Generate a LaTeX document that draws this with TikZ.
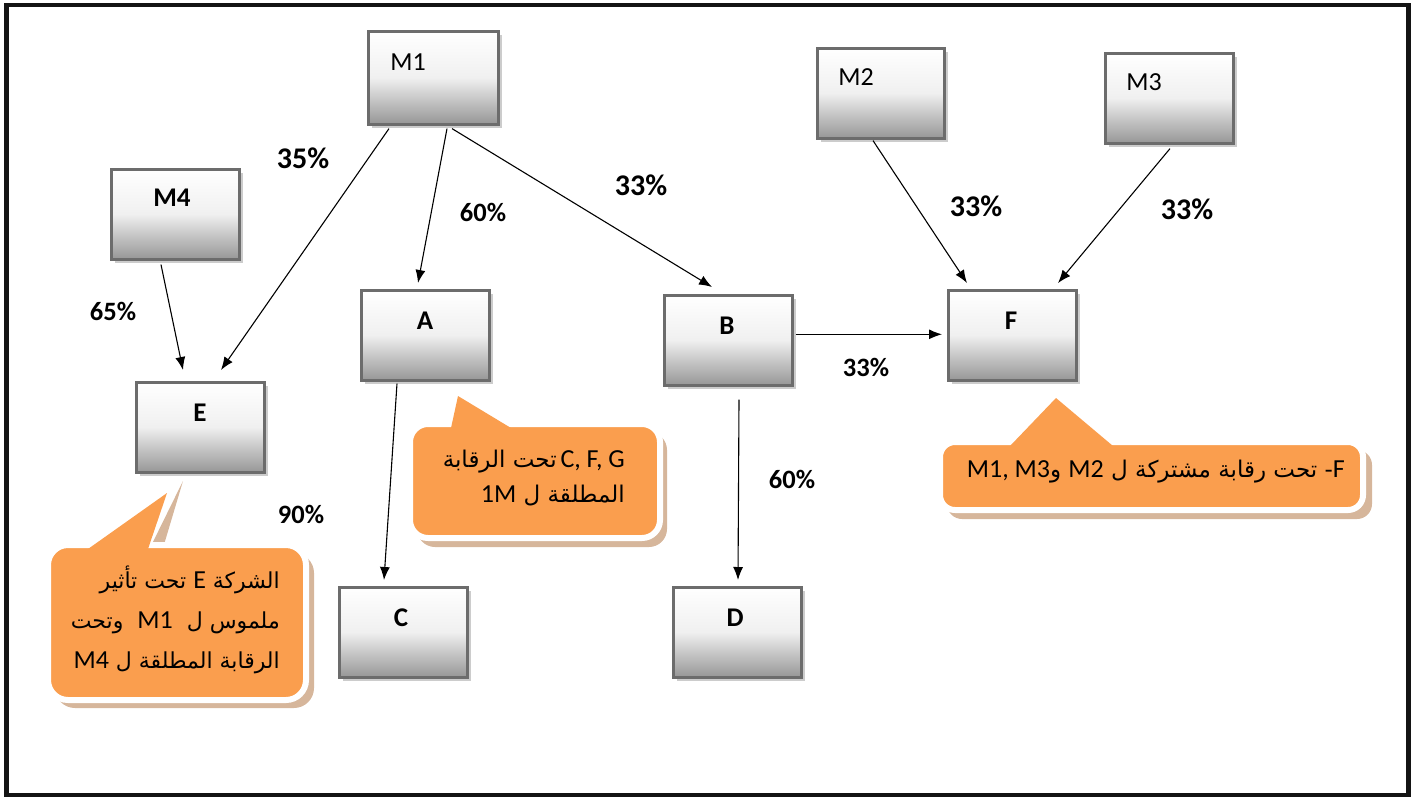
\documentclass[tikz,border=0pt]{standalone}
\usepackage{fontspec}
\setmainfont{Carlito}
\newfontfamily\arabicfont[Script=Arabic]{DejaVu Sans}
\TeXXeTstate=1
\usetikzlibrary{arrows.meta,calc,shadows}

\definecolor{boxline}{RGB}{108,108,108}
\definecolor{boxlow}{RGB}{150,150,150}
\definecolor{callout}{RGB}{250,158,78}
\definecolor{calloutshade}{RGB}{214,182,155}

% a Latin run inside right-to-left text
\newcommand{\latinrun}[1]{\beginL{\rmfamily\fontsize{26}{30}\selectfont #1}\endL}

\begin{document}
\begin{tikzpicture}[x=1pt,y=-1pt,
  company/.style={draw=boxline, line width=2.6pt, minimum width=128pt,
    minimum height=90pt, inner sep=0pt, anchor=north west,
    top color=white, bottom color=boxlow, middle color=black!6,
    drop shadow={shadow xshift=4pt, shadow yshift=-4pt, fill=black!20, opacity=1}},
  plainlbl/.style={inner sep=0pt, font=\fontsize{26}{30}\selectfont},
  boldlbl/.style={inner sep=0pt, font=\bfseries\fontsize{27}{30}\selectfont},
  pbig/.style={inner sep=0pt, font=\bfseries\fontsize{30}{34}\selectfont},
  psmall/.style={inner sep=0pt, font=\bfseries\fontsize{26.5}{30}\selectfont},
  link/.style={line width=1.1pt, -{Latex[length=13pt,width=10pt]}},
  notetext/.style={inner sep=0pt, align=right, anchor=east},
  notebody/.style={draw=white, line width=6pt, fill=callout},
]
\useasboundingbox (0,0) rectangle (1418,798);

% outer frame
\draw[line width=4.5pt, black!92] (6.5,5) rectangle (1408.5,795);

% company boxes
\node[company, minimum width=130pt, minimum height=93pt] (M1) at (367,30) {};
\node[company, minimum width=127pt] (M2) at (816,47) {};
\node[company] (M3) at (1104,52) {};
\node[company] (M4) at (110,168) {};
\node[company] (A) at (360,289) {};
\node[company] (B) at (663,294) {};
\node[company] (F) at (947,289) {};
\node[company] (E) at (135,381) {};
\node[company] (C) at (338,586) {};
\node[company] (D) at (672,586) {};

% box labels
\node[plainlbl] (tM1) at (408,62) {M1};
\node[plainlbl] (tM2) at (856,77) {M2};
\node[plainlbl] (tM3) at (1144,82) {M3};
\node[boldlbl] (tM4) at (172,198) {M4};
\node[boldlbl] (tA) at (425,321) {A};
\node[boldlbl] (tB) at (727,326) {B};
\node[boldlbl] (tF) at (1011,321) {F};
\node[boldlbl] (tE) at (200,413) {E};
\node[boldlbl] (tC) at (401,618) {C};
\node[boldlbl] (tD) at (735,618) {D};

% ownership links
\draw[link] ($(M1.south west)+(22,3)$) -- ($(E.north west)+(86,-11)$);
\draw[link] ($(M1.south west)+(80,3)$) -- ($(A.north west)+(58,-6)$);
\draw[link] ($(M1.south west)+(85,3)$) -- ($(B.north west)+(49,-7)$);
\draw[link] ($(M4.south west)+(51,4)$) -- ($(E.north west)+(48,-11)$);
\draw[link] ($(A.south west)+(37,2)$) -- ($(C.north west)+(46,-6)$);
\draw[link] ($(B.south west)+(76,13)$) -- ($(D.north west)+(66,-6)$);
\draw[link] ($(B.east)+(2,-6)$) -- ($(F.west)+(-5,-1)$);
\draw[link] ($(M2.south west)+(57,1)$) -- ($(F.north west)+(20,-6)$);
\draw[link] ($(M3.south west)+(66,4)$) -- ($(F.north west)+(111,-6)$);

% percentages
\node[pbig] (p1) at (303,158) {35\%};
\node[pbig] (p2) at (641,185) {33\%};
\node[psmall] (p3) at (483,212) {60\%};
\node[psmall] (p4) at (113,311) {65\%};
\node[pbig] (p5) at (976,206) {33\%};
\node[pbig] (p6) at (1187,209) {33\%};
\node[psmall] (p7) at (866,367) {33\%};
\node[psmall] (p8) at (792,479) {60\%};
\node[psmall] (p9) at (301,514) {90\%};

% callout under A
\fill[calloutshade, rounded corners=18pt] (417,432) rectangle (667,547);
\draw[notebody, rounded corners=18pt] (410,424) rectangle (660,538);
\fill[callout] (451,428) -- (458,396) -- (511,428) -- cycle;
\node[notetext, font=\arabicfont\fontsize{23}{35}\selectfont] (noteA) at (625,478)
  {\beginR\latinrun{C, F, G}\,تحت الرقابة\endR\\
   \beginR المطلقة ل \latinrun{1M}\endR};

% callout under E
\fill[calloutshade] (183,481) -- (163,548) -- (150,548) -- cycle;
\fill[calloutshade, rounded corners=20pt] (55,553) rectangle (314,708);
\draw[notebody, rounded corners=20pt] (48,545) rectangle (306,700);
\fill[callout] (88,549) -- (167,493) -- (148,549) -- cycle;
\node[notetext, font=\arabicfont\fontsize{22}{40}\selectfont] (noteE) at (280,620)
  {\beginR الشركة \latinrun{E} تحت تأثير\endR\\
   \beginR ملموس ل \ \latinrun{M1}\ \ وتحت\endR\\
   \beginR الرقابة المطلقة ل \latinrun{M4}\endR};

% callout under F
\fill[calloutshade, rounded corners=15pt] (947,450) rectangle (1372,519);
\draw[notebody, rounded corners=15pt] (940,442) rectangle (1363,510);
\fill[callout] (1010,446) -- (1056,398) -- (1113,446) -- cycle;
\node[notetext, font=\arabicfont\fontsize{23}{30}\selectfont] (noteF) at (1345,472)
  {\beginR\latinrun{F}- تحت رقابة مشتركة ل \latinrun{M2} و\latinrun{M1, M3}\endR};
\end{tikzpicture}
\end{document}
